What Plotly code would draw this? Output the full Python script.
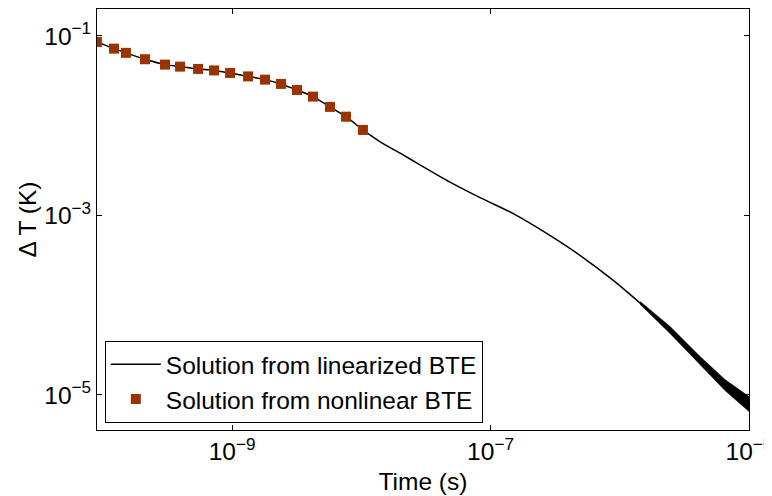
import plotly.graph_objects as go

# nonlinear BTE markers (time in s, dT in K)
t_nonlin = [9.0e-11, 1.22e-10, 1.51e-10, 2.12e-10, 3.03e-10, 3.96e-10, 5.46e-10, 7.26e-10,
            9.66e-10, 1.33e-9, 1.80e-9, 2.39e-9, 3.18e-9, 4.23e-9, 5.73e-9, 7.62e-9, 1.03e-8]
dt_nonlin = [0.0857, 0.0722, 0.0648, 0.0550, 0.0479, 0.0455, 0.0429, 0.0413,
             0.0387, 0.0354, 0.0326, 0.0292, 0.0250, 0.0211, 0.0162, 0.0126, 0.00897]

# linearized BTE curve beyond the marker range
t_tail = [1.40e-8, 2.0e-8, 2.70e-8, 4.86e-8, 8.30e-8, 1.50e-7, 2.72e-7, 4.92e-7,
          8.91e-7, 1.61e-6, 2.92e-6, 5.30e-6, 1.0e-5]
dt_tail = [6.61e-3, 4.94e-3, 3.83e-3, 2.35e-3, 1.58e-3, 1.05e-3, 6.32e-4, 3.60e-4,
           1.89e-4, 9.14e-5, 4.23e-5, 1.79e-5, 7.96e-6]

# spread of the oscillating tail near the end
t_band = [1.44e-6, 2.45e-6, 4.18e-6, 6.52e-6, 1.0e-5]
dt_band_hi = [1.10e-4, 5.80e-5, 2.69e-5, 1.49e-5, 9.59e-6]
dt_band_lo = [1.02e-4, 4.84e-5, 2.18e-5, 1.12e-5, 6.53e-6]

x_ticks = [1e-9, 1e-7, 1e-5]
x_labels = ["10<sup>−9</sup>", "10<sup>−7</sup>", "10<sup>−5</sup>"]
y_ticks = [1e-5, 1e-3, 1e-1]
y_labels = ["10<sup>−5</sup>", "10<sup>−3</sup>", "10<sup>−1</sup>"]

FONT = "Liberation Sans, Arial, sans-serif"
FS = 24.5
MARK = "#9a3300"

fig = go.Figure()

fig.add_trace(go.Scatter(
    x=t_band + t_band[::-1],
    y=dt_band_hi + dt_band_lo[::-1],
    fill="toself",
    fillcolor="black",
    line=dict(width=0.5, color="black"),
    mode="lines",
    showlegend=False,
    hoverinfo="skip",
))
fig.add_trace(go.Scatter(
    x=t_nonlin + t_tail,
    y=dt_nonlin + dt_tail,
    mode="lines",
    name="Solution from linearized BTE",
    line=dict(color="black", width=1.5, shape="spline", smoothing=0.6),
))
fig.add_trace(go.Scatter(
    x=t_nonlin,
    y=dt_nonlin,
    mode="markers",
    name="Solution from nonlinear BTE",
    marker=dict(symbol="square", size=10, color=MARK),
))

axis_common = dict(
    type="log",
    automargin=False,
    showgrid=False,
    zeroline=False,
    showline=True,
    linecolor="black",
    linewidth=1,
    mirror="ticks",
    ticks="inside",
    ticklen=5,
    tickcolor="black",
    ticklabeloverflow="allow",
    tickfont=dict(family=FONT, size=FS, color="black"),
)

fig.update_xaxes(
    **axis_common,
    range=[-10.045, -5],
    tickvals=x_ticks,
    ticktext=x_labels,
    title=dict(text="Time (s)", font=dict(family=FONT, size=FS, color="black"), standoff=8),
)
fig.update_yaxes(
    **axis_common,
    range=[-5.39, -0.70],
    tickvals=y_ticks,
    ticktext=y_labels,
    title=dict(text="Δ T (K)", font=dict(family=FONT, size=FS, color="black"), standoff=0),
)

# page body adds an 8px offset, so margins are shifted to compensate
fig.update_layout(
    width=772,
    height=488,
    margin=dict(l=89, r=31, t=1, b=66),
    paper_bgcolor="white",
    plot_bgcolor="white",
    font=dict(family=FONT, color="black"),
    legend=dict(
        x=0.012,
        y=0.017,
        xanchor="left",
        yanchor="bottom",
        bgcolor="white",
        bordercolor="black",
        borderwidth=1,
        font=dict(family=FONT, size=FS, color="black"),
        tracegroupgap=0,
        itemwidth=50,
    ),
)

fig.write_html("out.html")
